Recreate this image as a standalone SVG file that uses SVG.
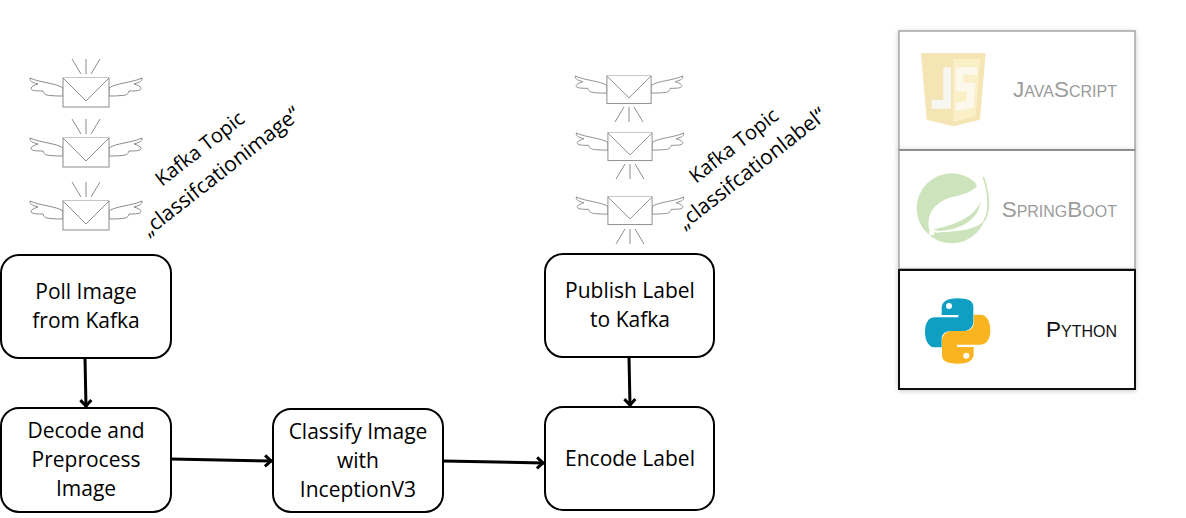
<svg xmlns="http://www.w3.org/2000/svg" width="1186" height="518" viewBox="0 0 1186 518">
<style>
.box{fill:#fff;stroke:#000;stroke-width:2}
.t{font-family:"Open Sans","Noto Sans",sans-serif;font-size:21px;fill:#000;text-anchor:middle}
.r{font-family:"Open Sans","Noto Sans",sans-serif;font-size:20px;fill:#000;text-anchor:middle}
.q{font-size:21px}
.sc{font-family:"Liberation Sans",Arial,sans-serif;font-size:22.500px;font-variant:small-caps;text-anchor:end}
.e{fill:#fff;stroke:#8c8c8c;stroke-width:1}
.ray{fill:none;stroke:#8c8c8c;stroke-width:1}
.c{fill:none;stroke:#000;stroke-width:3;marker-end:url(#a)}
</style>
<defs>
<marker id="a" markerUnits="userSpaceOnUse" markerWidth="16" markerHeight="16" refX="11" refY="7" orient="auto"><path d="M4 1.500L10 7L4 12.500" fill="none" stroke="#000" stroke-width="3"/></marker>
<filter id="s" x="-5%" y="-5%" width="110%" height="110%"><feDropShadow dx="0" dy="1" stdDeviation="2.500" flood-color="#000" flood-opacity=".22"/></filter>
<g id="env">
<path class="e" d="M-23 10C-30 5-45 5-56 0C-56 3-55 4-48 6C-51 7-54 8-55 10C-55 12-54 13-43 13C-42 16-41 17-36 17.500C-32 18-27 18-23 18Z"/>
<path class="e" d="M23 10C30 5 45 5 56 0C56 3 55 4 48 6C51 7 54 8 55 10C55 12 54 13 43 13C42 16 41 17 36 17.500C32 18 27 18 23 18Z"/>
<rect class="e" x="-23" y="0" width="46" height="29"/>
<path class="e" d="M-23 0L0 23L23 0"/>
</g>
<path id="up" class="ray" d="M-14 -19L-5 -4M0 -19V-4M14 -19L5 -4"/>
<path id="dn" class="ray" d="M-14 23L-5 8M0 23V8M14 23L5 8"/>
</defs>
<g id="msgs-left">
<use href="#env" x="86" y="78"/><use href="#up" x="86" y="78"/>
<use href="#env" x="86" y="138"/><use href="#up" x="86" y="138"/>
<use href="#env" x="86" y="201"/><use href="#up" x="86" y="201"/>
</g>
<g id="msgs-right">
<use href="#env" transform="translate(629 76) scale(.96 .95)"/><use href="#dn" x="629" y="99"/>
<use href="#env" transform="translate(630 133) scale(.96 .95)"/><use href="#dn" x="630" y="156"/>
<use href="#env" transform="translate(630 197) scale(.96 .95)"/><use href="#dn" x="630" y="221"/>
</g>
<g id="topic-left">
<text class="r" transform="translate(204 154) rotate(-38)">Kafka Topic</text>
<text class="r q" transform="translate(225 177) rotate(-38)">„classifcationimage“</text>
</g>
<g id="topic-right">
<text class="r" transform="translate(738 151) rotate(-38)">Kafka Topic</text>
<text class="r q" transform="translate(756 174) rotate(-38)">„classifcationlabel“</text>
</g>
<g id="connectors">
<path class="c" d="M85 358L86 407"/>
<path class="c" d="M171 459L272 461"/>
<path class="c" d="M443 461L544 463"/>
<path class="c" d="M629 357L630 406"/>
</g>
<g id="poll"><rect class="box" x="1" y="255" width="170" height="103" rx="18"/><text class="t" x="86" y="299">Poll Image</text><text class="t" x="86" y="328">from Kafka</text></g>
<g id="decode"><rect class="box" x="1" y="408" width="170" height="104" rx="18"/><text class="t" x="86" y="438">Decode and</text><text class="t" x="86" y="467">Preprocess</text><text class="t" x="86" y="496">Image</text></g>
<g id="classify"><rect class="box" x="273" y="409" width="170" height="103" rx="18"/><text class="t" x="358" y="439">Classify Image</text><text class="t" x="358" y="468">with</text><text class="t" x="358" y="497">InceptionV3</text></g>
<g id="encode"><rect class="box" x="545" y="407" width="169" height="103" rx="18"/><text class="t" x="630" y="466">Encode Label</text></g>
<g id="publish"><rect class="box" x="545" y="254" width="169" height="103" rx="18"/><text class="t" x="630" y="298">Publish Label</text><text class="t" x="630" y="327">to Kafka</text></g>
<g id="js">
<rect x="899" y="31" width="236" height="119" fill="#fff" stroke="#a6a6a6" stroke-width="1.500" filter="url(#s)"/>
<g transform="translate(915 48) scale(.3333)">
<path d="M18 15H212L195 215L115 235L35 215Z" fill="#f5e5b4"/>
<path d="M115 33H195L182 205L115 222Z" fill="#faefc6"/>
<path d="M85 58H108V182H50V155H85Z" fill="#f7f6f1"/>
<path d="M122 58H188L186 80H145V105H182L176 178L122 190V165L155 158V130H122Z" fill="#fcf9ec"/>
</g>
<text class="sc" x="1117" y="97" fill="#9c9c9c">JavaScript</text>
</g>
<g id="spring">
<rect x="899" y="150" width="236" height="119" fill="#fff" stroke="#a6a6a6" stroke-width="1.500" filter="url(#s)"/>
<path d="M899 150H1135" stroke="#808080" stroke-width="1.500"/>
<g transform="translate(910 165) scale(.3333)">
<circle cx="125" cy="130" r="105" fill="#cde3bb"/>
<path d="M195 52L222 30L240 60L205 72Z" fill="#fff"/>
<path d="M58 195C45 140 85 105 130 95C170 88 205 72 220 35C238 90 240 140 222 168C190 200 130 198 80 203Z" fill="#fff"/>
<path d="M220 35C238 90 240 140 222 168" fill="none" stroke="#cde3bb" stroke-width="5"/>
<path d="M70 193C130 180 190 160 212 110C205 165 150 195 85 198Z" fill="#cde3bb"/>
<circle cx="65" cy="203" r="8" fill="#fff"/>
</g>
<text class="sc" x="1117" y="217" fill="#9c9c9c">SpringBoot</text>
</g>
<g id="python">
<rect x="899" y="270" width="236" height="119" fill="#fff" stroke="#111" stroke-width="2" filter="url(#s)"/>
<g transform="translate(890 265) scale(.3333)">
<path d="M203 100C168 100 155 112 155 130V150H205V157H135C115 157 105 175 105 200C105 230 118 247 135 247H155V222C155 205 168 198 185 198H220C238 198 250 185 250 170V125C250 108 235 100 203 100Z" fill="#0f9fc2"/>
<path d="M203 296C238 296 251 284 251 266V246H201V239H271C291 239 301 221 301 196C301 166 288 149 271 149H251V174C251 191 238 198 221 198H186C168 198 156 211 156 226V271C156 288 171 296 203 296Z" fill="#f9b41f"/>
<circle cx="177" cy="123" r="9" fill="#fff"/><circle cx="229" cy="272" r="9" fill="#fff"/>
</g>
<text class="sc" x="1117" y="337" fill="#111">Python</text>
</g>
</svg>
